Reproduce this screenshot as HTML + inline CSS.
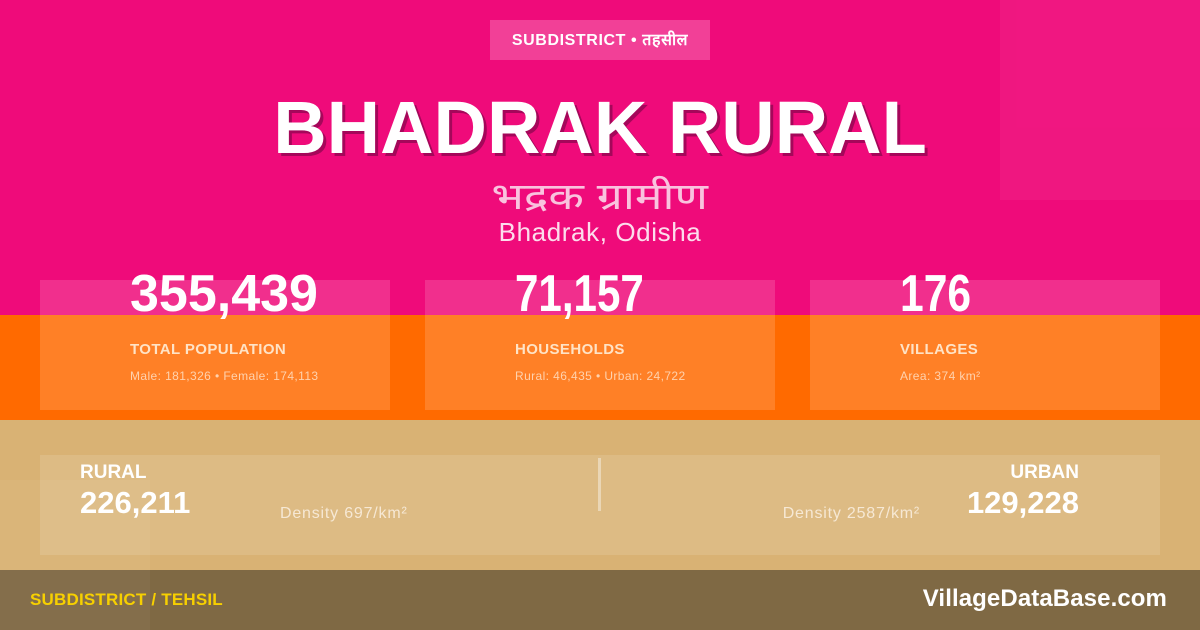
<!DOCTYPE html>
<html><head><meta charset="utf-8">
<style>
*{margin:0;padding:0;box-sizing:border-box}
html,body{width:1200px;height:630px;overflow:hidden}
body{position:relative;font-family:"Liberation Sans",sans-serif;background:#EF0B7A}
.abs{position:absolute}
.band-pink{left:0;top:0;width:1200px;height:315px;background:#EF0B7A}
.band-orange{left:0;top:315px;width:1200px;height:105px;background:#FF6A00}
.band-tan{left:0;top:420px;width:1200px;height:150px;background:#D9B274}
.footer{left:0;top:570px;width:1200px;height:60px;background:#7F6944}
.tr{left:1000px;top:0;width:200px;height:200px;background:rgba(255,255,255,0.05)}
.bl{left:0;top:480px;width:150px;height:150px;background:rgba(255,255,255,0.04)}
.badge{left:490px;top:20px;width:220px;height:40px;background:rgba(255,255,255,0.22);color:#fff;font-weight:bold;font-size:16px;line-height:42px;text-align:center;letter-spacing:0.6px}
.title{left:0;top:83px;width:1200px;text-align:center;font-weight:bold;font-size:74px;line-height:90px;color:#fff;text-shadow:3px 3px 0 #A5075A;letter-spacing:0}
.hindi{left:0;top:175px;width:1200px;text-align:center;font-family:"Liberation Sans","DejaVu Sans",sans-serif;font-size:37px;line-height:44px;color:#F9C3DE}
.hindi span{display:inline-block;transform:scaleX(1.25);transform-origin:center}
.loc{left:0;top:216px;width:1200px;text-align:center;font-size:26px;line-height:32px;color:#FCDDEC;letter-spacing:0.6px}
.card{top:280px;width:350px;height:130px;background:rgba(255,255,255,0.15)}
.num{top:265px;font-weight:bold;font-size:52px;line-height:58px;color:#fff;transform-origin:left center}
.lbl{top:340px;font-weight:bold;font-size:15px;line-height:20px;color:#FFE3C6;letter-spacing:0.4px}
.sub{top:368px;font-size:12px;line-height:16px;color:#FFD2AE;letter-spacing:0.4px}
.bigcard{left:40px;top:455px;width:1120px;height:100px;background:rgba(255,255,255,0.12)}
.div{left:598px;top:458px;width:3px;height:53px;background:rgba(255,255,255,0.4)}
.rlbl{top:461px;font-weight:bold;font-size:19px;line-height:24px;color:#fff}
.rnum{top:485px;font-weight:bold;font-size:31px;line-height:36px;color:#fff}
.dens{top:503px;font-size:16px;line-height:22px;color:#F6E8D4;letter-spacing:0.8px}
.fl{left:30px;top:589px;font-weight:bold;font-size:17px;line-height:22px;color:#F7D000;letter-spacing:0.2px}
.fr{right:33px;top:584px;font-weight:bold;font-size:24px;line-height:30px;color:#fff;letter-spacing:0.1px}
</style></head><body>
<div class="abs band-pink"></div>
<div class="abs band-orange"></div>
<div class="abs band-tan"></div>
<div class="abs footer"></div>
<div class="abs tr"></div>
<div class="abs bl"></div>

<div class="abs badge">SUBDISTRICT • तहसील</div>
<div class="abs title">BHADRAK RURAL</div>
<div class="abs hindi"><span>भद्रक ग्रामीण</span></div>
<div class="abs loc">Bhadrak, Odisha</div>

<div class="abs card" style="left:40px"></div>
<div class="abs card" style="left:425px"></div>
<div class="abs card" style="left:810px"></div>

<div class="abs num" style="left:130px">355,439</div>
<div class="abs lbl" style="left:130px">TOTAL POPULATION</div>
<div class="abs sub" style="left:130px">Male: 181,326 • Female: 174,113</div>

<div class="abs num" style="left:515px;transform:scaleX(0.81)">71,157</div>
<div class="abs lbl" style="left:515px">HOUSEHOLDS</div>
<div class="abs sub" style="left:515px">Rural: 46,435 • Urban: 24,722</div>

<div class="abs num" style="left:900px;transform:scaleX(0.82)">176</div>
<div class="abs lbl" style="left:900px">VILLAGES</div>
<div class="abs sub" style="left:900px">Area: 374 km²</div>

<div class="abs bigcard"></div>
<div class="abs div"></div>
<div class="abs rlbl" style="left:80px">RURAL</div>
<div class="abs rnum" style="left:80px">226,211</div>
<div class="abs dens" style="left:280px">Density 697/km²</div>

<div class="abs rlbl" style="right:121px">URBAN</div>
<div class="abs rnum" style="right:121px">129,228</div>
<div class="abs dens" style="right:280px">Density 2587/km²</div>

<div class="abs fl">SUBDISTRICT / TEHSIL</div>
<div class="abs fr">VillageDataBase.com</div>
</body></html>
